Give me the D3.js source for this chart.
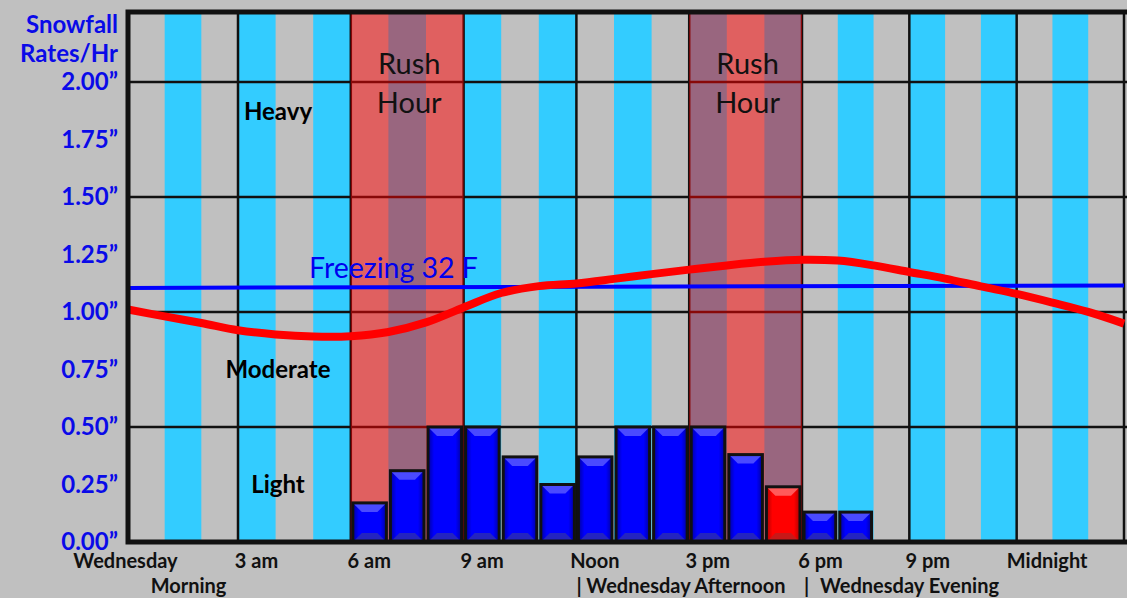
<!DOCTYPE html>
<html>
<head>
<meta charset="utf-8">
<script src="https://cdn.jsdelivr.net/npm/d3@7"></script>
<style>
  body { margin: 0; background: #c0c0c0; overflow: hidden; }
  svg { display: block; font-family: Lato, "Open Sans", sans-serif; }
</style>
</head>
<body>
<svg id="chart"></svg>
<script>
// hours counted from midnight Wednesday morning
const barHours = [6, 7, 8, 9, 10, 11, 12, 13, 14, 15, 16, 17, 18, 19]
const snowRates = [0.17, 0.31, 0.5, 0.5, 0.37, 0.25, 0.37, 0.5, 0.5, 0.5, 0.38, 0.24, 0.13, 0.13]
const peakHour = 17

// temperature trace (F), one reading per hour
const tempHours = [0, 1, 2, 3, 4, 5, 6, 7, 8, 9, 10, 11, 12, 13, 14, 15, 16, 17, 18, 19, 20, 21, 22, 23, 24, 25, 26, 27]
const tempF = [31.25, 31.02, 30.8, 30.56, 30.42, 30.35, 30.36, 30.5, 30.82, 31.32, 31.8, 32.03, 32.12, 32.27,
  32.43, 32.58, 32.72, 32.84, 32.91, 32.88, 32.72, 32.5, 32.28, 32.02, 31.77, 31.48, 31.17, 30.78]
const freezeHours = [0, 27]
const freezeF = [31.97, 32.05]

const rushStart = [6, 15]
const rushEnd = [9, 18]

const rateTicks = [0, 0.25, 0.5, 0.75, 1, 1.25, 1.5, 1.75, 2]
const gridRates = [0.5, 1, 1.5, 2]
const timeTicks = [0, 3, 6, 9, 12, 15, 18, 21, 24]
const timeLabels = ["Wednesday", "3 am", "6 am", "9 am", "Noon", "3 pm", "6 pm", "9 pm", "Midnight"]
const bandLabels = ["Heavy", "Moderate", "Light"]
const bandRates = [1.87, 0.75, 0.25]

const W = 1127, H = 598
const svg = d3.select("#chart").attr("width", W).attr("height", H)

// the original grid is not quite even, so a piecewise scale
const x = d3.scaleLinear().domain([0, 3, 18, 27]).range([128, 238, 802, 1124])
const y = d3.scaleLinear().domain([0, 2]).range([542, 82])
const tY = d3.scaleLinear().domain([30, 34]).range([347, 227])
const plotTop = 12

svg.append("rect").attr("width", W).attr("height", H).attr("fill", "#c0c0c0")

// hourly stripes
svg.append("g")
  .selectAll("rect")
  .data(d3.range(0, 27).filter((h) => h % 2 == 1))
  .join("rect")
  .attr("x", (h) => x(h))
  .attr("width", (h) => x(h + 1) - x(h))
  .attr("y", plotTop)
  .attr("height", y(0) - plotTop)
  .attr("fill", "#33ccff")

// grid
svg.append("g")
  .selectAll("line")
  .data(gridRates)
  .join("line")
  .attr("x1", x(0))
  .attr("x2", W)
  .attr("y1", (d) => y(d))
  .attr("y2", (d) => y(d))
  .attr("stroke", "#111")
  .attr("stroke-width", 2.5)

svg.append("g")
  .selectAll("line")
  .data(timeTicks.slice(1).concat([27]))
  .join("line")
  .attr("x1", (h) => x(h))
  .attr("x2", (h) => x(h))
  .attr("y1", plotTop)
  .attr("y2", y(0))
  .attr("stroke", "#111")
  .attr("stroke-width", 2.5)

// rush hour overlay, tints the grid below it too
svg.append("g")
  .selectAll("rect")
  .data(rushStart)
  .join("rect")
  .attr("x", (h) => x(h))
  .attr("width", (h, i) => x(rushEnd[i]) - x(h))
  .attr("y", plotTop)
  .attr("height", y(0) - plotTop)
  .attr("fill", "#ff0000")
  .attr("fill-opacity", 0.5)

const rushText = svg.append("g")
  .attr("text-anchor", "middle")
  .attr("font-size", 29)
  .attr("fill", "#111")
rushStart.forEach((h, i) => {
  const cx = x((h + rushEnd[i]) / 2) + 2
  rushText.append("text").attr("x", cx).attr("y", 74).text("Rush")
  rushText.append("text").attr("x", cx).attr("y", 113).text("Hour")
})

// bars with a bevelled look
const defs = svg.append("defs")
const body = (id, edge, mid) => {
  const g = defs.append("linearGradient").attr("id", id)
  g.append("stop").attr("offset", "0%").attr("stop-color", edge)
  g.append("stop").attr("offset", "18%").attr("stop-color", mid)
  g.append("stop").attr("offset", "82%").attr("stop-color", mid)
  g.append("stop").attr("offset", "100%").attr("stop-color", edge)
}
body("blueBody", "#0000a0", "#0000ff")
body("redBody", "#b00000", "#ff0000")

const bars = svg.append("g")
  .selectAll("g")
  .data(barHours.map((h, i) => ({ h, v: snowRates[i] })))
  .join("g")

bars.each(function ({ h, v }) {
  const g = d3.select(this)
  const red = h == peakHour
  const x0 = x(h) + 2, x1 = x(h + 1) - 2
  const y0 = y(v), y1 = y(0)
  const b = Math.min(9, (y1 - y0) / 2, (x1 - x0) / 2)
  g.append("rect")
    .attr("x", x0).attr("y", y0)
    .attr("width", x1 - x0).attr("height", y1 - y0)
    .attr("fill", red ? "url(#redBody)" : "url(#blueBody)")
  g.append("polygon")
    .attr("points", [[x0, y0], [x1, y0], [x1 - b, y0 + b], [x0 + b, y0 + b]].join(" "))
    .attr("fill", red ? "#ff5a5a" : "#4a4aff")
  g.append("polygon")
    .attr("points", [[x0, y1], [x1, y1], [x1 - b, y1 - b], [x0 + b, y1 - b]].join(" "))
    .attr("fill", red ? "#c81818" : "#2424c0")
  g.append("rect")
    .attr("x", x0).attr("y", y0)
    .attr("width", x1 - x0).attr("height", y1 - y0)
    .attr("fill", "none")
    .attr("stroke", "#111")
    .attr("stroke-width", 3)
})

// freezing line and temperature
svg.append("path")
  .datum(freezeHours.map((h, i) => [x(h), tY(freezeF[i])]))
  .attr("d", d3.line())
  .attr("fill", "none")
  .attr("stroke", "#0000ff")
  .attr("stroke-width", 4)

svg.append("text")
  .attr("x", 309)
  .attr("y", tY(32.3))
  .attr("font-size", 28.5)
  .attr("fill", "#0000ee")
  .text("Freezing 32 F")

svg.append("path")
  .datum(tempHours.map((h, i) => [x(h), tY(tempF[i])]))
  .attr("d", d3.line().curve(d3.curveCatmullRom))
  .attr("fill", "none")
  .attr("stroke", "#ff0000")
  .attr("stroke-width", 8)

// intensity bands
svg.append("g")
  .selectAll("text")
  .data(bandLabels)
  .join("text")
  .attr("x", 278)
  .attr("y", (d, i) => y(bandRates[i]))
  .attr("dy", "0.35em")
  .attr("text-anchor", "middle")
  .attr("font-size", 24)
  .attr("font-weight", "bold")
  .attr("fill", "#000")
  .text((d) => d)

// frame
svg.append("path")
  .attr("d", `M${W},${plotTop}H${x(0)}V${y(0)}H${W}`)
  .attr("fill", "none")
  .attr("stroke", "#111")
  .attr("stroke-width", 5)

// axes
const yAxis = svg.append("g")
  .attr("transform", `translate(${x(0)},0)`)
  .call(d3.axisLeft(y).tickValues(rateTicks).tickSize(0).tickPadding(10)
    .tickFormat((d) => d.toFixed(2) + "\u201D"))
yAxis.select(".domain").remove()
yAxis.selectAll("text")
  .attr("font-family", "Lato, sans-serif")
  .attr("font-size", 24)
  .attr("font-weight", "bold")
  .attr("fill", "#0a0ae8")

const title = svg.append("g")
  .attr("text-anchor", "end")
  .attr("font-size", 24)
  .attr("font-weight", "bold")
  .attr("fill", "#0a0ae8")
title.append("text").attr("x", 118).attr("y", 33).text("Snowfall")
title.append("text").attr("x", 118).attr("y", 62).text("Rates/Hr")

const xAxis = svg.append("g")
  .attr("transform", `translate(0,${y(0)})`)
  .call(d3.axisBottom(x).tickValues(timeTicks).tickSize(0).tickPadding(12)
    .tickFormat((d, i) => timeLabels[i]))
xAxis.select(".domain").remove()
xAxis.selectAll("text")
  .attr("font-family", "Lato, sans-serif")
  .attr("font-size", 20)
  .attr("font-weight", "bold")
  .attr("fill", "#111")
  .attr("dx", (d, i) => (i == 0 ? -3 : i == timeTicks.length - 1 ? 30 : 18))

const sub = svg.append("g")
  .attr("font-size", 20)
  .attr("font-weight", "bold")
  .attr("fill", "#111")
sub.append("text").attr("x", x(1.65)).attr("y", 593).attr("text-anchor", "middle").text("Morning")
sub.append("text").attr("x", x(12)).attr("y", 593).text("| Wednesday Afternoon")
sub.append("text").attr("x", x(18) + 2).attr("y", 593).text("|")
sub.append("text").attr("x", x(18) + 18).attr("y", 593).text("Wednesday Evening")
</script>
</body>
</html>
